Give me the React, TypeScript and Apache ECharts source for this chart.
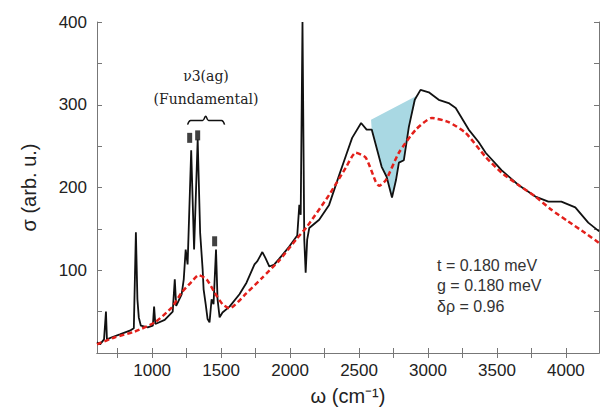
import React, { useEffect, useRef } from "react";
import * as echarts from "echarts";

// Measured spectrum (black)
const blackX = [600,622,651,665,672,708,766,838,867,882,893,903,918,968,1005,1014,1023,1091,1149,1164,1174,1214,1229,1243,1257,1283,1304,1330,1348,1366,1373,1388,1402,1416,1431,1445,1463,1474,1489,1510,1561,1633,1684,1742,1763,1799,1821,1850,1886,1922,1994,2052,2067,2077,2090,2103,2113,2124,2139,2211,2283,2356,2406,2450,2515,2555,2592,2664,2700,2739,2768,2789,2825,2861,2904,2946,3006,3078,3150,3201,3295,3367,3418,3533,3656,3779,3873,3967,4068,4162,4241];
const blackY = [13,10.5,16.5,50,16.5,19,22.5,27,30,146,65,43,33,31,33,56,35,40,50,89,57,71,89,125,107,245,125,258,145,101,77,59,41,37,65,59,125,65,43,49,56,71,85,107,111,122,115,104.5,107,114,128.6,142,179,167,400,137,97,137,151,161,179,215,239,260,278,270,270,225,213,188,209,230,233,273,306,318,315,306,302,296,270,255,242,221,203,189,183,183,176,157.5,147];

// Model (red dashed)
const redX = [600,730,875,1019,1142,1214,1286,1337,1395,1453,1510,1561,1682,1799,1922,2043,2124,2283,2404,2476,2549,2621,2645,2695,2789,2912,3028,3150,3273,3418,3533,3656,3779,3895,4017,4140,4240];
const redY = [10.5,19,26,37,55,73,86,94,89,73,59,54,72,91,112,137,153,191,224,242,236,207,202,209,242,270,284,279,266,237,218,203,189,173,159,145,133];

// Shaded (blue) region
const shadeX = [2587,2592,2664,2700,2739,2768,2789,2825,2861,2919];
const shadeY = [282,270,225,213,188,209,230,233,273,311];

// Peak markers
const markerX = [1272,1330,1453];
const markerY = [260,263,135];

// Brace over the fundamental
const braceX = [1257,1279,1366,1388,1409,1503,1525];
const braceY = [276,281,281,286,281,281,276];

// Ticks / labels
const xTicks = [750,1000,1250,1500,1750,2000,2250,2500,2750,3000,3250,3500,3750,4000];
const xLabels = [1000,1500,2000,2500,3000,3500,4000];
const yLabels = [100,200,300,400];

const paramLines = ["t = 0.180 meV", "g = 0.180 meV", "δρ = 0.96"];

const zip = (xs: number[], ys: number[]) => xs.map((x, i) => [x, ys[i]]);

export default function App() {
  const ref = useRef<HTMLDivElement>(null);
  useEffect(() => {
    document.body.style.margin = "0";
    const chart = echarts.init(ref.current!, null, { renderer: "svg" });
    const font = "Liberation Sans, Arial, sans-serif";
    const axisCommon = {
      axisLine: { show: true, lineStyle: { color: "#777", width: 1 } },
      splitLine: { show: false },
    };
    const fmt = (v: number) => String(v);
    chart.setOption({
      animation: false,
      backgroundColor: "#fff",
      grid: { left: 97, right: 2, top: 22, bottom: 61 },
      xAxis: [
        {
          type: "value", min: 600, max: 4240, position: "bottom",
          ...axisCommon,
          name: "ω (cm⁻¹)", nameLocation: "middle", nameGap: 33,
          nameTextStyle: { fontFamily: font, fontSize: 20, color: "#222" },
          axisTick: { show: true, inside: true, length: 5, customValues: xTicks, lineStyle: { color: "#777" } },
          axisLabel: { customValues: xLabels, formatter: fmt, fontFamily: font, fontSize: 17, color: "#222", margin: 9 },
        },
        {
          type: "value", min: 600, max: 4240, position: "top",
          ...axisCommon,
          axisTick: { show: true, inside: true, length: 5, customValues: xTicks, lineStyle: { color: "#777" } },
          axisLabel: { show: false },
        },
      ],
      yAxis: [
        {
          type: "value", min: 0, max: 400, interval: 50, position: "left",
          ...axisCommon,
          name: "σ (arb. u.)", nameLocation: "middle", nameGap: 58,
          nameTextStyle: { fontFamily: font, fontSize: 20, color: "#222" },
          axisTick: { show: true, inside: true, length: 5, lineStyle: { color: "#777" } },
          axisLabel: { customValues: yLabels, formatter: fmt, fontFamily: font, fontSize: 17, color: "#222", margin: 10 },
        },
        {
          type: "value", min: 0, max: 400, interval: 50, position: "right",
          ...axisCommon,
          axisTick: { show: true, inside: true, length: 5, lineStyle: { color: "#777" } },
          axisLabel: { show: false },
        },
      ],
      series: [
        {
          type: "custom",
          silent: true,
          z: 1,
          data: [[2750, 250]],
          renderItem: (_params: any, api: any) => ({
            type: "polygon",
            shape: { points: shadeX.map((x, i) => api.coord([x, shadeY[i]])) },
            style: { fill: "#a9d8e3", stroke: "none" },
          }),
        },
        {
          type: "line",
          data: zip(blackX, blackY),
          showSymbol: false,
          z: 2,
          lineStyle: { color: "#111", width: 1.8 },
        },
        {
          type: "line",
          data: zip(redX, redY),
          showSymbol: false,
          smooth: 0.2,
          z: 3,
          lineStyle: { color: "#e3201b", width: 2.5, type: [5, 3] },
        },
        {
          type: "line",
          data: zip(braceX, braceY),
          showSymbol: false,
          smooth: 0.4,
          z: 3,
          lineStyle: { color: "#111", width: 1.5 },
        },
        {
          type: "scatter",
          data: zip(markerX, markerY),
          symbol: "rect",
          symbolSize: [5, 10],
          z: 4,
          itemStyle: { color: "#111" },
        },
      ],
      graphic: [
        { type: "text", x: 206, y: 76, style: { text: "ν3(ag)", fontFamily: "DejaVu Serif, serif", fontSize: 14, fill: "#222", align: "center", verticalAlign: "middle" } },
        { type: "text", x: 206, y: 99, style: { text: "(Fundamental)", fontFamily: "DejaVu Serif, serif", fontSize: 14, fill: "#222", align: "center", verticalAlign: "middle" } },
        ...paramLines.map((t, i) => ({
          type: "text", x: 437, y: [265, 285, 306][i],
          style: { text: t, fontFamily: font, fontSize: 16, fill: "#333", align: "left", verticalAlign: "middle" },
        })),
      ],
    });
    return () => chart.dispose();
  }, []);
  return <div ref={ref} style={{ width: 601, height: 414 }} />;
}
